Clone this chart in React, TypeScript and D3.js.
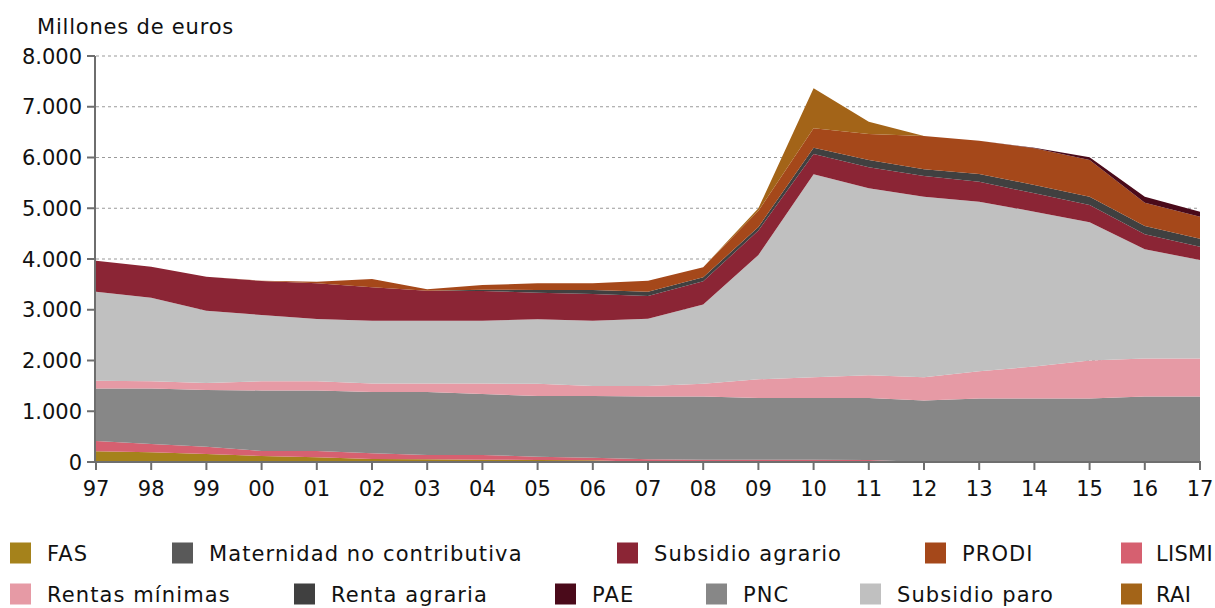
import React from "react";
import * as d3 from "d3";

const years = ["97","98","99","00","01","02","03","04","05","06","07","08","09","10","11","12","13","14","15","16","17"];

// Series values (millones de euros)
const fas        = [210,190,158,118, 92, 59, 52, 45, 40, 35,  0,  0,  0,  0,  0,  0,  0,  0,  0,  0,  0];
const lismi      = [204,165,142, 99,125,112, 86, 93, 65, 50, 53, 45, 45, 45, 40,  0,  0,  0,  0,  0,  0];
const maternidad = [  0,  0,  0,  0,  0,  0,  0,  0,  0,  0,  0,  0,  0,  0,  0,  0,  0,  0,  0,  0,  0];
const pnc        = [1036,1095,1120,1193,1193,1209,1242,1202,1195,1215,1237,1245,1215,1215,1220,1210,1250,1250,1250,1290,1290];
const rentasMin  = [150,140,135,180,180,165,165,205,240,200,210,250,370,410,450,460,540,630,750,750,750];
const subParo    = [1756,1648,1427,1307,1228,1240,1240,1240,1271,1285,1324,1563,2449,3999,3683,3558,3339,3052,2723,2151,1940];
const subAgrario = [611,611,670,670,703,657,590,585,526,525,447,459,481,400,413,407,394,362,341,296,263];
const rentaAgr   = [  0,  0,  0,  0,  0,  0,  0, 25, 52, 80, 85, 80, 70,124,145,132,152,164,164,163,157];
const prodi      = [  0,  0,  0,  5, 30,163, 30, 93,132,131,216,197,320,382,512,657,656,723,723,460,434];
const rai        = [  0,  0,  0,  0,  0,  0,  0,  0,  0,  0,  0,  0, 50,788,242,  0,  0,  0,  0,  0,  0];
const pae        = [  0,  0,  0,  0,  0,  0,  0,  0,  0,  0,  0,  0,  0,  0,  0,  0,  0, 10, 53,118, 98];

const yTicks = [0,1000,2000,3000,4000,5000,6000,7000,8000];

const seriesKeys = ["FAS","LISMI","Maternidad no contributiva","PNC","Rentas mínimas","Subsidio paro","Subsidio agrario","Renta agraria","PRODI","RAI","PAE"];
const seriesValues = [fas,lismi,maternidad,pnc,rentasMin,subParo,subAgrario,rentaAgr,prodi,rai,pae];
const seriesColors = ["#A5821B","#D66070","#595959","#878787","#E69AA5","#C0C0C0","#8B2535","#404040","#A5481A","#A36418","#4A0A1A"];

// Legend order as in the reference
const legendRow1 = ["FAS","Maternidad no contributiva","Subsidio agrario","PRODI","LISMI"];
const legendRow2 = ["Rentas mínimas","Renta agraria","PAE","PNC","Subsidio paro","RAI"];
const legendX1 = [10,172,617,925,1121];
const legendX2 = [10,294,555,706,860,1121];

const fmt = (v: number) => d3.format(",")(v).replace(/,/g, ".");

export default function App() {
  const W = 1215, H = 608;
  const x0 = 96, x1 = 1200, yTop = 56, yBot = 462;
  const font = "'DejaVu Sans', sans-serif";

  const x = d3.scalePoint<string>().domain(years).range([x0, x1]);
  const y = d3.scaleLinear().domain([0, 8000]).range([yBot, yTop]);

  const table = years.map((yr, i) => {
    const row: any = { year: yr };
    seriesKeys.forEach((k, j) => (row[k] = seriesValues[j][i]));
    return row;
  });
  const stacked = d3.stack<any>().keys(seriesKeys)(table);
  const area = d3
    .area<any>()
    .x((d) => x(d.data.year) as number)
    .y0((d) => y(d[0]))
    .y1((d) => y(d[1]))
    .curve(d3.curveLinear);

  const colorOf = (k: string) => seriesColors[seriesKeys.indexOf(k)];
  const legendItem = (k: string, lx: number, cy: number, last: boolean) => (
    <g key={"l" + k}>
      <rect x={lx} y={cy - 10.5} width={21} height={21} fill={colorOf(k)} />
      <text x={lx + (last ? 35 : 37)} y={cy} dy="0.36em" fontSize={21} letterSpacing={last ? 0.3 : 1.1} fill="#111">{k}</text>
    </g>
  );

  return (
    <svg width={W} height={H} style={{ position: "absolute", left: 0, top: 0, background: "#fff" }} fontFamily={font}>
      {/* grid */}
      {yTicks.filter((t) => t > 0).map((t) => (
        <line key={"g" + t} x1={x0} x2={x1} y1={y(t)} y2={y(t)} stroke="#9a9a9a" strokeWidth={1.2} strokeDasharray="3,3" />
      ))}
      {/* areas */}
      {stacked.map((s, i) => (
        <path key={s.key} d={area(s as any) || ""} fill={seriesColors[i]} stroke="none" />
      ))}
      {/* y axis */}
      <line x1={x0 - 1} x2={x0 - 1} y1={yTop} y2={yBot} stroke="#6e6e6e" strokeWidth={2} />
      {yTicks.map((t) => (
        <g key={"y" + t}>
          <line x1={x0 - 9} x2={x0 - 1} y1={y(t)} y2={y(t)} stroke="#6e6e6e" strokeWidth={2} />
          <text x={x0 - 14} y={y(t)} dy="0.36em" textAnchor="end" fontSize={21} fill="#111">
            {fmt(t)}
          </text>
        </g>
      ))}
      {/* x axis */}
      <line x1={x0 - 2} x2={x1 + 1} y1={yBot} y2={yBot} stroke="#6e6e6e" strokeWidth={2} />
      {years.map((yr) => (
        <g key={"x" + yr}>
          <line x1={x(yr)} x2={x(yr)} y1={yBot} y2={yBot + 8} stroke="#6e6e6e" strokeWidth={2} />
          <text x={x(yr)} y={yBot + 34} textAnchor="middle" fontSize={21} fill="#111">
            {yr}
          </text>
        </g>
      ))}
      {/* title */}
      <text x={37} y={34} fontSize={21} letterSpacing={0.8} fill="#111">Millones de euros</text>
      {/* legend */}
      {legendRow1.map((k, i) => legendItem(k, legendX1[i], 553, i === legendRow1.length - 1))}
      {legendRow2.map((k, i) => legendItem(k, legendX2[i], 594, i === legendRow2.length - 1))}
    </svg>
  );
}
